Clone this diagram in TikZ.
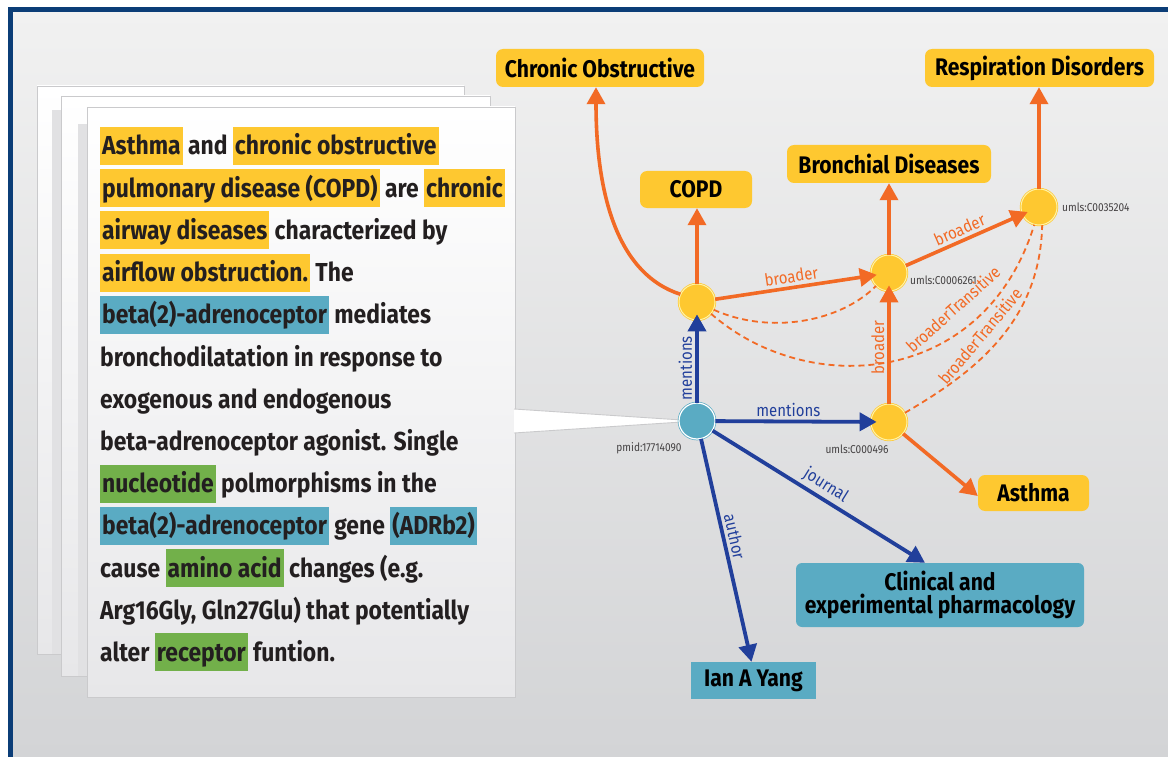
\documentclass[tikz,border=0pt]{standalone}
\usepackage{fontspec}
\setmainfont{Fira Sans}[FakeStretch=0.88]
\usetikzlibrary{arrows.meta}

\definecolor{frameblue}{HTML}{0B3D77}
\definecolor{nodeyellow}{HTML}{FEC830}
\definecolor{ringpale}{HTML}{FFF3A8}
\definecolor{nodeblue}{HTML}{5AABC3}
\definecolor{hlgreen}{HTML}{72B04A}
\definecolor{edgeorange}{HTML}{F26A25}
\definecolor{edgeblue}{HTML}{213F9B}
\definecolor{ink}{HTML}{231F20}
\definecolor{paperedge}{HTML}{CACACC}
\definecolor{paperbottom}{HTML}{E7E7E9}
\definecolor{shadowgrey}{HTML}{E1E1E3}
\definecolor{bgtop}{HTML}{F1F1F1}
\definecolor{bgbottom}{HTML}{D3D4D6}

% highlighted phrase in the abstract text
\newcommand{\hlbox}[2]{{\setlength{\fboxsep}{0pt}\colorbox{#1}{\rule[-10pt]{0pt}{38pt}\hspace{2pt}#2\hspace{2pt}}}}
\newcommand{\hlY}[1]{\hlbox{nodeyellow}{#1}}
\newcommand{\hlB}[1]{\hlbox{nodeblue}{#1}}
\newcommand{\hlG}[1]{\hlbox{hlgreen}{#1}}

\tikzset{
  textline/.style={anchor=base west, inner sep=0pt, text=ink,
    font=\fontsize{26}{30}\selectfont\bfseries},
  termbox/.style={rounded corners=7pt, fill=nodeyellow, text=black, inner sep=0pt,
    font=\fontsize{24}{26}\selectfont\bfseries},
  docbox/.style={fill=nodeblue, text=black, inner sep=0pt, align=center,
    font=\fontsize{24}{26}\selectfont\bfseries},
  concept/.style={circle, fill=nodeyellow, draw=nodeyellow, double=ringpale,
    double distance=1pt, line width=0.7pt, minimum size=36pt, inner sep=0pt},
  article/.style={circle, fill=nodeblue, draw=nodeblue, double=white,
    double distance=1.2pt, line width=0.7pt, minimum size=36pt, inner sep=0pt},
  idlabel/.style={text=ink!85, inner sep=0pt, font=\fontsize{11.5}{12}\selectfont},
  broader/.style={draw=edgeorange, line width=3.6pt,
    -{Triangle[length=17pt,width=18pt]}},
  transitive/.style={draw=edgeorange, line width=1.8pt, dash pattern=on 6pt off 4pt},
  relation/.style={draw=edgeblue, line width=3.8pt,
    -{Triangle[length=17pt,width=18pt]}},
  olab/.style={text=edgeorange, inner sep=1pt, font=\fontsize{17}{17}\selectfont},
  blab/.style={text=edgeblue, inner sep=3pt, font=\fontsize{17}{17}\selectfont},
  paper/.style={draw=paperedge, line width=0.8pt, top color=white, bottom color=paperbottom}
}

\begin{document}
\begin{tikzpicture}[x=1pt,y=-1pt]
\useasboundingbox (0,0) rectangle (1168,757);

% background and frame
\fill[white] (0,0) rectangle (1168,757);
\shade[top color=bgtop, bottom color=bgbottom] (10,10) rectangle (1168,757);
\draw[frameblue, line width=5pt] (8,10) -- (1168,10);
\draw[frameblue, line width=5pt] (10,8) -- (10,757);

% stacked pages
\draw[paper] (37,86) rectangle (464,654);
\fill[shadowgrey] (52,110) rectangle (61,654);
\draw[paper] (61,96) rectangle (490,676);
\fill[shadowgrey] (78,124) rectangle (87,676);
\draw[paper] (87,107) rectangle (515,697);

% callout from the page to the article node
\coordinate (tip) at (697,421);
\fill[white] (514,409) -- (tip) -- (514,433) -- cycle;
\draw[paperedge, line width=0.9pt] (514,409) -- (tip) -- (514,433);

% abstract text
\node[textline] (l1) at (100,155.0) {\hlY{Asthma} and \hlY{chronic obstructive}};
\node[textline] (l2) at (100,197.2) {\hlY{pulmonary disease (COPD)} are \hlY{chronic}};
\node[textline] (l3) at (100,239.4) {\hlY{airway diseases} characterized by};
\node[textline] (l4) at (100,281.6) {\hlY{airflow obstruction.} The};
\node[textline] (l5) at (100,323.8) {\hlB{beta(2)-adrenoceptor} mediates};
\node[textline] (l6) at (100,366.0) {bronchodilatation in response to};
\node[textline] (l7) at (100,408.2) {exogenous and endogenous};
\node[textline] (l8) at (100,450.4) {beta-adrenoceptor agonist. Single};
\node[textline] (l9) at (100,492.6) {\hlG{nucleotide} polmorphisms in the};
\node[textline] (l10) at (100,534.8) {\hlB{beta(2)-adrenoceptor} gene \hlB{(ADRb2)}};
\node[textline] (l11) at (100,577.0) {cause \hlG{amino acid} changes (e.g.};
\node[textline] (l12) at (100,619.2) {Arg16Gly, Gln27Glu) that potentially};
\node[textline] (l13) at (100,661.4) {alter \hlG{receptor} funtion.};

% graph nodes
\node[termbox, minimum width=208pt, minimum height=38pt] (chronic) at (600,68) {Chronic Obstructive};
\node[termbox, minimum width=112pt, minimum height=37pt] (copd) at (696,189.5) {COPD};
\node[termbox, minimum width=204pt, minimum height=38pt] (bronch) at (889,164) {Bronchial Diseases};
\node[termbox, minimum width=229pt, minimum height=38pt] (resp) at (1039.5,68) {Respiration Disorders};
\node[termbox, minimum width=111pt, minimum height=36pt] (asthma) at (1033.5,493) {Asthma};
\node[docbox, rounded corners=6pt, minimum width=288pt, minimum height=64pt] (clinical) at (940,595)
  {Clinical and\\[-3pt]experimental pharmacology};
\node[docbox, minimum width=125pt, minimum height=37pt] (ian) at (753.5,680.5) {Ian A Yang};

\node[concept] (c1) at (697,302) {};
\node[concept] (c2) at (889,273) {};
\node[concept] (c3) at (1039,207) {};
\node[concept] (c4) at (889,422) {};
\node[article] (pmid) at (tip) {};

\node[idlabel, anchor=west] (id3) at (1062,207) {umls:C0035204};
\node[idlabel, anchor=west] (id2) at (910,280) {umls:C0006261};
\node[idlabel] (id4) at (857,449) {umls:C000496};
\node[idlabel] (idp) at (649,448) {pmid:17714090};

% transitive closure links
\draw[transitive] (c1.-25) .. controls (770,335) and (840,322) .. (c2.-135);
\draw[transitive] (c1.-40) .. controls (810,400) and (985,385) .. (c3.-105)
  node[olab, rotate=42] (t1) at (953,309) {broaderTransitive};
\draw[transitive] (c4.30) .. controls (975,372) and (1040,322) .. (c3.-80)
  node[olab, rotate=50] (t2) at (980,336) {broaderTransitive};

% broader links
\draw[broader] (c1.155) .. controls (620,275) and (596,200) .. ([xshift=-4pt]chronic.south);
\draw[broader] (c1) -- (c1 |- copd.south);
\draw[broader] (c2) -- (c2 |- bronch.south);
\draw[broader] (c3) -- (c3 |- resp.south);
\draw[broader, shorten >=-6pt] (c1) -- (c2) node[olab, inner sep=3pt, midway, sloped, above] {broader};
\draw[broader, shorten >=-6pt] (c2) -- (c3) node[olab, inner sep=3pt, midway, sloped, above] {broader};
\draw[broader, shorten >=-6pt] (c4) -- (c2) node[olab, inner sep=3pt, midway, sloped, above] {broader};
\draw[broader] (c4) -- ([yshift=-3pt]asthma.west);

% article relations
\draw[relation, shorten >=-6pt] (pmid) -- (c1) node[blab, pos=0.42, sloped, above] {mentions};
\draw[relation, shorten >=-6pt] (pmid) -- (c4) node[blab, pos=0.47, above] {mentions};
\draw[relation] (pmid) -- ([xshift=-15pt]clinical.north) node[blab, pos=0.5, sloped, above] {journal};
\draw[relation] (pmid) -- ([xshift=-2pt]ian.north) node[blab, pos=0.45, sloped, above] {author};
\end{tikzpicture}
\end{document}
